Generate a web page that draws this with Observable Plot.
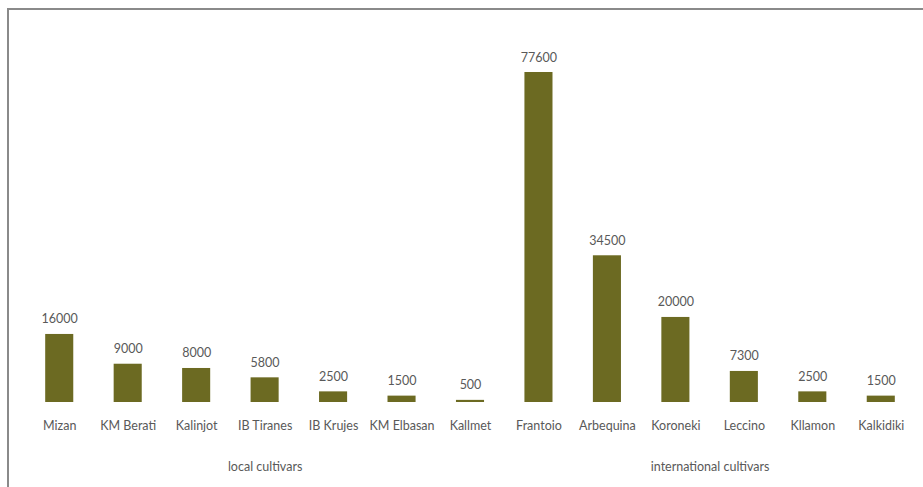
<!DOCTYPE html>
<html><head><meta charset="utf-8">
<script src="https://cdn.jsdelivr.net/npm/d3@7"></script>
<script src="https://cdn.jsdelivr.net/npm/@observablehq/plot@0.6"></script>
<style>
body{margin:0;background:#fff;}
#wrap{position:relative;width:923px;height:487px;overflow:hidden;}
#border{position:absolute;left:7px;top:8px;width:1000px;height:1000px;border-left:2px solid #8a8a8a;border-top:2px solid #8a8a8a;}
#chart{position:absolute;left:0;top:0;}
</style></head>
<body><div id="wrap"><div id="border"></div><div id="chart"></div></div>
<script>
const cultivars = ["Mizan","KM Berati","Kalinjot","IB Tiranes","IB Krujes","KM Elbasan","Kallmet","Frantoio","Arbequina","Koroneki","Leccino","Kllamon","Kalkidiki"];
const values = [16000,9000,8000,5800,2500,1500,500,77600,34500,20000,7300,2500,1500];
const groups = ["local cultivars","local cultivars","local cultivars","local cultivars","local cultivars","local cultivars","local cultivars","international cultivars","international cultivars","international cultivars","international cultivars","international cultivars","international cultivars"];
const groupLabels = ["local cultivars","international cultivars"];
const groupAnchor = ["IB Tiranes","Koroneki"];

const data = cultivars.map((c,i)=>({name:c,value:values[i],group:groups[i]}));
const W = 923, H = 487, mL = 25, mR = 8;
const step = (W - mL - mR) / cultivars.length;
const groupData = groupLabels.map((g,i)=>({label:g,anchor:groupAnchor[i],
  even: groups.filter(x=>x===g).length % 2 === 0}));

const font = "Lato, 'Open Sans', sans-serif";
const fs = 12.5;
const chart = Plot.plot({
  width: W, height: H,
  marginLeft: mL, marginRight: mR, marginTop: 72, marginBottom: 85,
  style:{fontFamily: font, fontSize: fs+"px", color:"#595959", background:"transparent"},
  x:{type:"band", domain: cultivars, paddingInner: 0.59, paddingOuter: 0.295, round: false, axis: null},
  y:{domain:[0,77600], axis:null},
  marks:[
    Plot.barY(data,{x:"name", y:"value", fill:"#6c6a22"}),
    Plot.text(data,{x:"name", y:"value", text:d=>String(d.value), dy:-15, fill:"#595959", fontSize:fs}),
    Plot.text(data,{x:"name", y:0, text:"name", dy:23, fill:"#595959", fontSize:fs}),
    Plot.text(groupData.filter(d=>!d.even),{x:"anchor", y:0, text:"label", dy:64, fill:"#595959", fontSize:fs}),
    Plot.text(groupData.filter(d=>d.even),{x:"anchor", y:0, text:"label", dy:64, dx: step/2, fill:"#595959", fontSize:fs})
  ]
});
document.getElementById("chart").appendChild(chart);
</script></body></html>
